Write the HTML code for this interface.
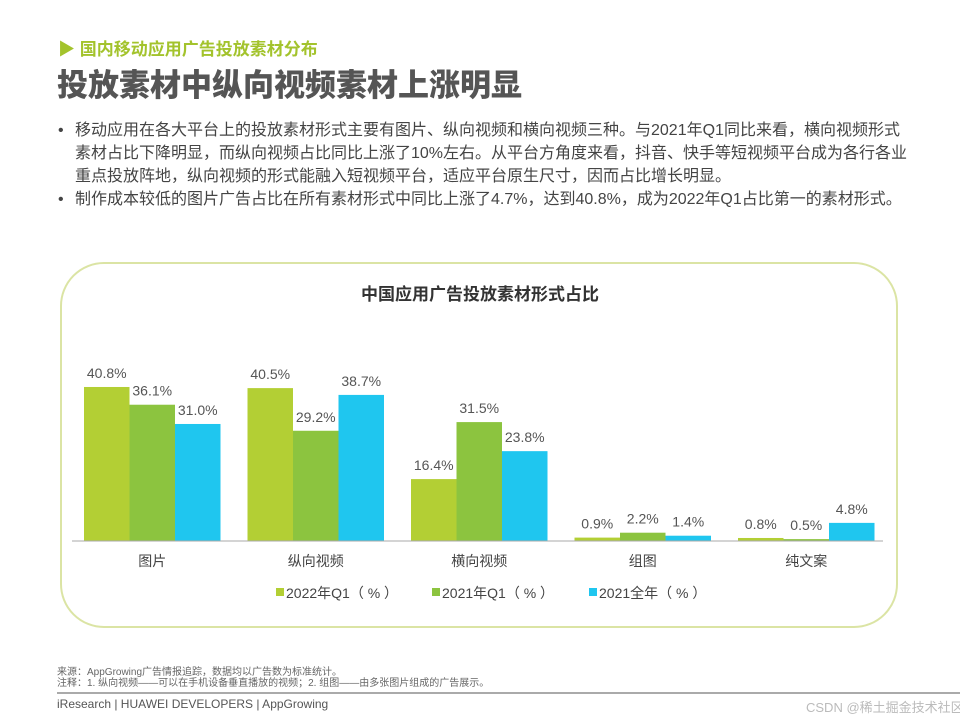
<!DOCTYPE html>
<html><head><meta charset="utf-8">
<style>
body{margin:0;width:960px;height:720px;background:#fff;overflow:hidden;position:relative;font-family:"Liberation Sans","Noto Sans CJK SC",sans-serif;}
.abs{position:absolute;white-space:nowrap;}
.sub{left:58px;top:35px;font-size:17px;font-weight:bold;color:#a3c32c;}
.title{left:57px;top:60px;font-size:31px;font-weight:900;color:#555;letter-spacing:0px;}
.b{left:75px;font-size:16px;color:#444;line-height:23px;}
.dot{position:absolute;left:-17px;}
.card{position:absolute;left:60px;top:262px;width:838px;height:366px;border:2px solid #dbe4a4;border-radius:44px;box-sizing:border-box;}
.foot{font-size:10px;color:#666;}
</style></head><body>
<div class="abs sub">▶ 国内移动应用广告投放素材分布</div>
<div class="abs title">投放素材中纵向视频素材上涨明显</div>
<div class="abs b" style="top:119px"><span class="dot">•</span>移动应用在各大平台上的投放素材形式主要有图片、纵向视频和横向视频三种。与2021年Q1同比来看，横向视频形式<br>素材占比下降明显，而纵向视频占比同比上涨了10%左右。从平台方角度来看，抖音、快手等短视频平台成为各行各业<br>重点投放阵地，纵向视频的形式能融入短视频平台，适应平台原生尺寸，因而占比增长明显。</div>
<div class="abs b" style="top:188px"><span class="dot">•</span>制作成本较低的图片广告占比在所有素材形式中同比上涨了4.7%，达到40.8%，成为2022年Q1占比第一的素材形式。</div>
<div class="card"></div>
<svg id="chart" width="960" height="720" style="position:absolute;left:0;top:0"></svg>
<div class="abs foot" style="left:57px;top:667px;line-height:11px">来源：AppGrowing广告情报追踪，数据均以广告数为标准统计。<br>注释：1. 纵向视频——可以在手机设备垂直播放的视频；2. 组图——由多张图片组成的广告展示。</div>
<div class="abs" style="left:57px;top:692px;width:903px;height:2px;background:#aaa"></div>
<div class="abs" style="left:57px;top:697px;font-size:12px;color:#555">iResearch | HUAWEI DEVELOPERS | AppGrowing</div>
<div class="abs" style="left:806px;top:697px;font-size:13px;color:#bbb">CSDN @稀土掘金技术社区</div>
<script>
const categories=["图片","纵向视频","横向视频","组图","纯文案"];
const series2022Q1=[40.8,40.5,16.4,0.9,0.8];
const series2021Q1=[36.1,29.2,31.5,2.2,0.5];
const series2021=[31.0,38.7,23.8,1.4,4.8];
const seriesNames=["2022年Q1（ % ）","2021年Q1（ % ）","2021全年（ % ）"];
const colors=["#b3cf34","#8cc43f","#1fc6ef"];
const svg=document.getElementById('chart');
const NS='http://www.w3.org/2000/svg';
const baseY=541,pxPer=3.775,g0=84,pitch=163.5,bw=45.5;
const y=v=>baseY-v*pxPer;
function mk(t,a){const e=document.createElementNS(NS,t);for(const k in a)e.setAttribute(k,a[k]);svg.appendChild(e);return e;}
const t=mk('text',{x:480,y:300,'text-anchor':'middle','font-size':17,'font-weight':'bold',fill:'#333'});
t.textContent='中国应用广告投放素材形式占比';


const all=[series2022Q1,series2021Q1,series2021];
categories.forEach((c,i)=>{
  all.forEach((s,j)=>{
    const x=g0+i*pitch+j*bw;
    const r=mk('rect',{x:x,y:y(s[i]),width:bw,height:s[i]*pxPer,fill:colors[j]});
    
    
    const l=mk('text',{x:x+bw/2,y:y(s[i])-9,'text-anchor':'middle','font-size':14,fill:'#555'});
    l.textContent=s[i].toFixed(1)+'%';
    
    
  });
  const cl=mk('text',{x:g0+i*pitch+bw*1.5,y:566,'text-anchor':'middle','font-size':14,fill:'#444'});
  cl.textContent=c;
  
  
});
const ax=mk('line',{x1:72,x2:883,y1:baseY,y2:baseY,stroke:'#aaa','stroke-width':1});


const lx=[276,432,589];
seriesNames.forEach((n,j)=>{
  const r=mk('rect',{x:lx[j],y:588,width:8,height:8,fill:colors[j]});
  
  
  const tx=mk('text',{x:lx[j]+10,y:598,'font-size':14,fill:'#444'});
  tx.textContent=n;
  
  
});
</script>
</body></html>
